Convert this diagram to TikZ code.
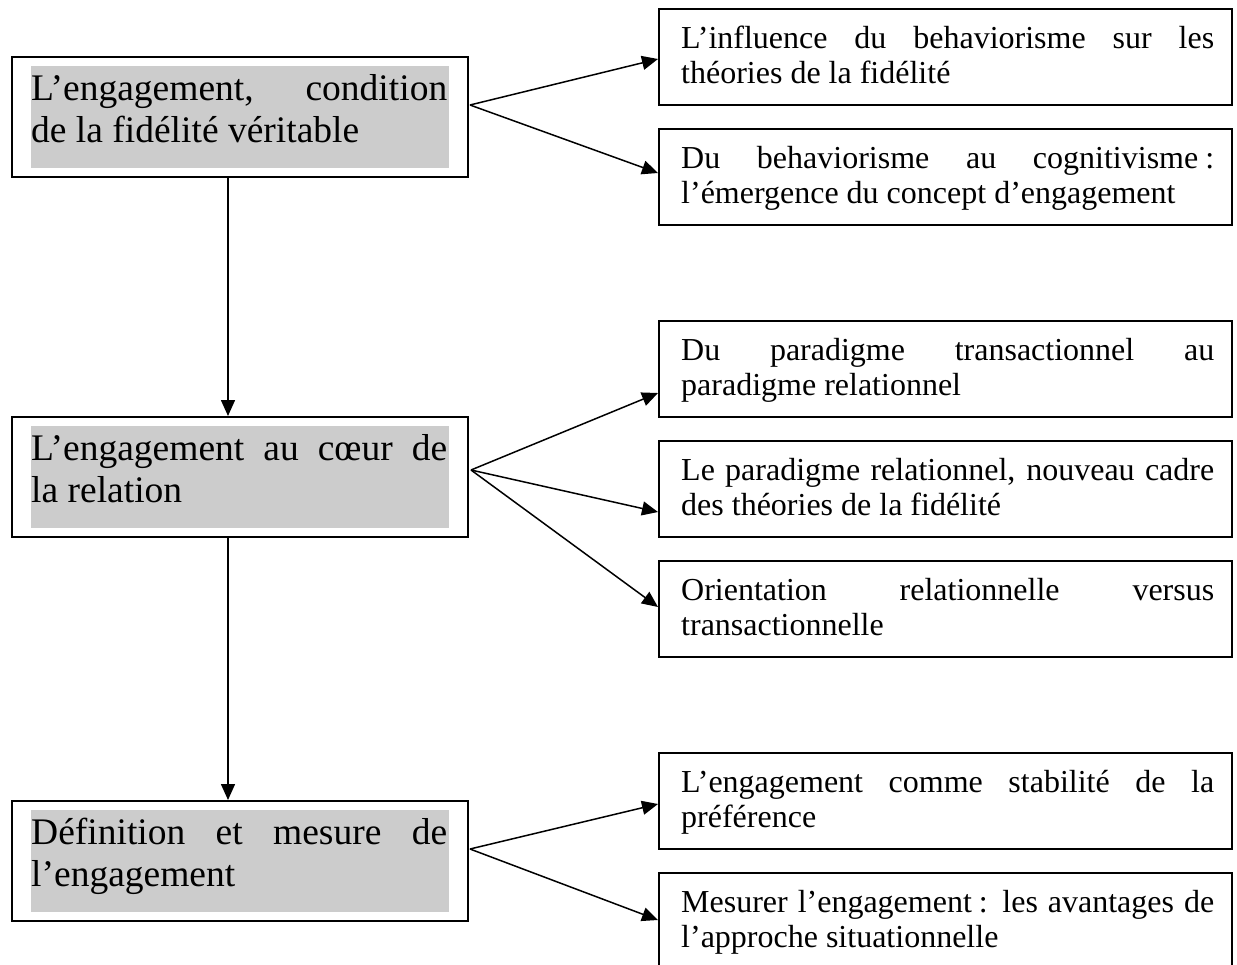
\documentclass[tikz,border=0pt]{standalone}
\usepackage{fontspec}
\setmainfont{Liberation Serif}
\usetikzlibrary{calc,arrows.meta}
\definecolor{shadegray}{HTML}{CCCCCC}
\tolerance=10000
\hbadness=10000
\hyphenpenalty=10000
\exhyphenpenalty=10000
\tikzset{
  leftbox/.style={draw,line width=2pt,minimum width=456pt,minimum height=120pt,inner sep=0pt},
  rightbox/.style={draw,line width=2pt,minimum width=573pt,minimum height=96pt,inner sep=0pt},
  lefttext/.style={anchor=base west,inner sep=0pt,text width=416pt,align=justify,font=\fontsize{37.5}{42}\selectfont},
  righttext/.style={anchor=base west,inner sep=0pt,text width=533pt,align=justify,font=\fontsize{32}{35.5}\selectfont},
  conn/.style={line width=1.5pt,-{Triangle[length=16pt,width=14pt]}},
}
\begin{document}
\begin{tikzpicture}[x=1pt,y=-1pt]
\useasboundingbox (0,0) rectangle (1237,964);

% left column
\node[leftbox] (b1) at (240,117) {};
\node[leftbox] (b2) at (240,477) {};
\node[leftbox] (b3) at (240,861) {};
\foreach \b in {b1,b2,b3}{
  \fill[shadegray] ($(\b.north west)+(20,10)$) rectangle ($(\b.south east)+(-20,-10)$);
}
\node[lefttext] (t1) at ($(b1.north west)+(20,44)$) {L’engagement, condition\linebreak de la fidélité véritable};
\node[lefttext] (t2) at ($(b2.north west)+(20,44)$) {L’engagement au cœur de\linebreak la relation};
\node[lefttext] (t3) at ($(b3.north west)+(20,44)$) {Définition et mesure de\linebreak l’engagement};

% right column
\node[rightbox] (r1) at (945.5,57) {};
\node[rightbox] (r2) at (945.5,177) {};
\node[rightbox] (r3) at (945.5,369) {};
\node[rightbox] (r4) at (945.5,489) {};
\node[rightbox] (r5) at (945.5,609) {};
\node[rightbox] (r6) at (945.5,801) {};
\node[rightbox] (r7) at (945.5,921) {};

\node[righttext] (s1) at ($(r1.north west)+(23,40)$) {L’influence du behaviorisme sur les\linebreak théories de la fidélité};
\node[righttext] (s2) at ($(r2.north west)+(23,40)$) {Du behaviorisme au cognitivisme\kern.22em:\linebreak l’émergence du concept d’engagement};
\node[righttext] (s3) at ($(r3.north west)+(23,40)$) {Du paradigme transactionnel au\linebreak paradigme relationnel};
\node[righttext] (s4) at ($(r4.north west)+(23,40)$) {Le paradigme relationnel, nouveau cadre\linebreak des théories de la fidélité};
\node[righttext] (s5) at ($(r5.north west)+(23,40)$) {Orientation relationnelle versus\linebreak transactionnelle};
\node[righttext] (s6) at ($(r6.north west)+(23,40)$) {L’engagement comme stabilité de la\linebreak préférence};
\node[righttext] (s7) at ($(r7.north west)+(23,40)$) {Mesurer l’engagement\kern.22em: les avantages de\linebreak l’approche situationnelle};

% fan origins
\coordinate (o1) at ($(b1.east)+(1,-12)$);
\coordinate (o2) at ($(b2.east)+(2,-7)$);
\coordinate (o3) at ($(b3.east)+(1,-12)$);

% connectors
\draw[conn] (o1) -- ($(r1.west)+(0,2)$);
\draw[conn] (o1) -- ($(r2.west)+(0,-4)$);
\draw[conn] (o2) -- ($(r3.west)+(0,24)$);
\draw[conn] (o2) -- ($(r4.west)+(0,23)$);
\draw[conn] (o2) -- ($(r5.west)+(0,-2)$);
\draw[conn] (o3) -- ($(r6.west)+(0,3)$);
\draw[conn] (o3) -- ($(r7.west)+(0,-1)$);

\draw[conn] ($(b1.south)+(-12,0)$) -- ($(b2.north)+(-12,0)$);
\draw[conn] ($(b2.south)+(-12,0)$) -- ($(b3.north)+(-12,0)$);
\end{tikzpicture}
\end{document}
